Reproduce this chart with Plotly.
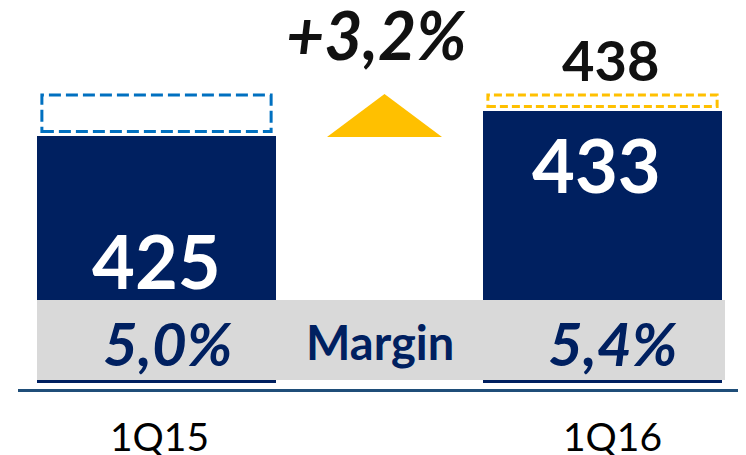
import plotly.graph_objects as go

# ---- data ----
periods = ["1Q15", "1Q16"]
reported = [425, 433]
adjusted = [438, 438]
margins = ["5,0%", "5,4%"]
growth_label = "+3,2%"
margin_label = "Margin"

# ---- styles / layout constants ----
OFF = 8                      # page body margin of the html
W, H = 746 - OFF, 455 - OFF
PLOT_H = 390 - OFF
NAVY = "#002060"
GOLD = "#FFC000"
BLUE = "#0070C0"
GRAY = "#D9D9D9"
LINE = "#1F4E79"
FONT = "Lato"
K = 3.125                    # px per unit
Y_MIN = 343.56
Y_RANGE = [Y_MIN, Y_MIN + PLOT_H / K]
X_RANGE = [-(156.5 - OFF) / 446, 1 + (746 - 602.5) / 446]
BAR_BASE = 345.8
BAR_W = 0.536
BOX_GAP = 1.3
BOX_INSET = 0.011

def px(x):
    return (x - OFF) / W

def py(y):
    return 1 - (y - OFF) / PLOT_H

fig = go.Figure()
fig.add_trace(go.Bar(
    x=list(range(len(periods))),
    y=[v - BAR_BASE for v in reported],
    base=[BAR_BASE] * len(periods),
    width=BAR_W,
    marker=dict(color=NAVY, line=dict(width=0)),
    hoverinfo="skip",
))

shapes = []
box_colors = [BLUE, GOLD]
box_dash = ["12px,5px", "8px,4px"]
for i, (r, a) in enumerate(zip(reported, adjusted)):
    shapes.append(dict(
        type="rect", xref="x", yref="y",
        x0=i - BAR_W / 2 + BOX_INSET, x1=i + BAR_W / 2 - BOX_INSET,
        y0=r + BOX_GAP, y1=a,
        line=dict(color=box_colors[i], width=3, dash=box_dash[i]),
        fillcolor="rgba(0,0,0,0)",
    ))

# gray margin band (above bars)
shapes.append(dict(
    type="rect", xref="paper", yref="paper",
    x0=px(37), x1=px(725), y0=py(380), y1=py(300),
    fillcolor=GRAY, line=dict(width=0), layer="above",
))
# baseline
shapes.append(dict(
    type="line", xref="paper", yref="paper",
    x0=px(18), x1=1, y0=py(390.5), y1=py(390.5),
    line=dict(color=LINE, width=3),
))
# growth triangle
tri = f"M {px(327)} {py(137)} L {px(442)} {py(137)} L {px(384.5)} {py(94)} Z"
shapes.append(dict(
    type="path", xref="paper", yref="paper", path=tri,
    fillcolor=GOLD, line=dict(width=0),
))

annotations = []
val_shift = [(0, -124.5), (-6, -54)]
for i, v in enumerate(reported):
    annotations.append(dict(
        x=i, y=v, xref="x", yref="y", text=str(v), showarrow=False,
        xshift=val_shift[i][0], yshift=val_shift[i][1], yanchor="middle",
        font=dict(family=FONT, size=74, color="white", weight="bold"),
    ))
annotations.append(dict(
    x=1, y=adjusted[1], xref="x", yref="y", text=str(adjusted[1]),
    showarrow=False, xshift=8, yshift=35.5, yanchor="middle",
    font=dict(family=FONT, size=56, color="#111111", weight="bold"),
))
m_shift = [11, 10]
for i, m in enumerate(margins):
    annotations.append(dict(
        x=i, y=py(343), xref="x", yref="paper", text=m, showarrow=False,
        xshift=m_shift[i], yanchor="middle",
        font=dict(family=FONT, size=60, color=NAVY, weight="bold", style="italic"),
    ))
annotations.append(dict(
    x=px(380), y=py(342), xref="paper", yref="paper", text=margin_label,
    showarrow=False, yanchor="middle",
    font=dict(family=FONT, size=47, color=NAVY, weight="bold"),
))
annotations.append(dict(
    x=px(376.5), y=py(34), xref="paper", yref="paper", text=growth_label,
    showarrow=False, yanchor="middle",
    font=dict(family=FONT, size=66, color="#111111", weight="bold", style="italic"),
))
p_shift = [3, 10]
for i, p in enumerate(periods):
    annotations.append(dict(
        x=i, y=py(436), xref="x", yref="paper", text=p, showarrow=False,
        xshift=p_shift[i], yanchor="middle",
        font=dict(family=FONT, size=39, color="#000000"),
    ))

fig.update_layout(
    width=W, height=H,
    margin=dict(l=0, r=0, t=0, b=H - PLOT_H, pad=0),
    paper_bgcolor="white", plot_bgcolor="white",
    showlegend=False,
    xaxis=dict(range=X_RANGE, visible=False, fixedrange=True),
    yaxis=dict(range=Y_RANGE, visible=False, fixedrange=True),
    shapes=shapes,
    annotations=annotations,
    bargap=0,
)

fig.write_html("out.html", config={"displayModeBar": False})
